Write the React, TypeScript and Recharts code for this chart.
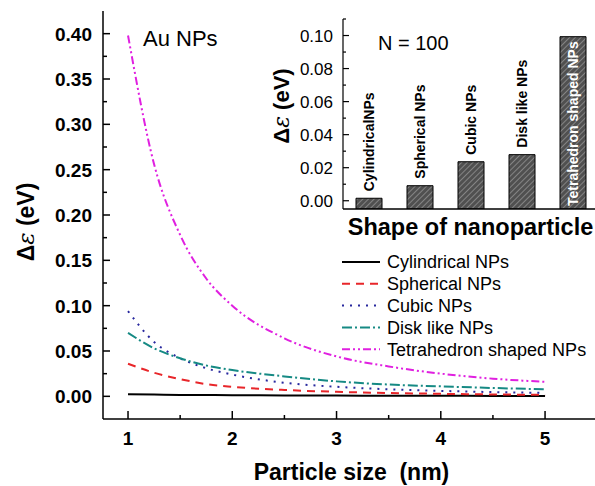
import React from 'react';
import { LineChart, Line, XAxis, YAxis, Legend, BarChart, Bar, LabelList } from 'recharts';

// main plot: energy gap vs particle size
const sizes = [1, 1.25, 1.5, 1.75, 2, 2.5, 3, 3.5, 4, 4.5, 5];
const cylindrical = [0.0022, 0.0019, 0.0016, 0.0014, 0.0012, 0.001, 0.0008, 0.0007, 0.0006, 0.0005, 0.0004];
const spherical = [0.036, 0.026, 0.019, 0.0135, 0.0105, 0.007, 0.005, 0.0037, 0.0028, 0.0021, 0.0016];
const cubic = [0.094, 0.06, 0.042, 0.031, 0.024, 0.015, 0.0105, 0.0078, 0.006, 0.0047, 0.0038];
const disk = [0.07, 0.053, 0.042, 0.034, 0.029, 0.022, 0.0165, 0.013, 0.011, 0.0092, 0.0078];
const tetrahedron = [0.398, 0.256, 0.178, 0.13, 0.1, 0.064, 0.044, 0.033, 0.025, 0.0195, 0.016];

const xTicks = [1, 1.5, 2, 2.5, 3, 3.5, 4, 4.5, 5];
const yTicks = [0, 0.025, 0.05, 0.075, 0.1, 0.125, 0.15, 0.175, 0.2, 0.225, 0.25, 0.275, 0.3, 0.325, 0.35, 0.375, 0.4];

// inset: N = 100
const shapes = ['CylindricalNPs', 'Spherical NPs', 'Cubic NPs', 'Disk like NPs', 'Tetrahedron shaped NPs'];
const shapeValues = [0.0015, 0.0091, 0.0236, 0.0279, 0.0993];
const insetTicks = [0, 0.01, 0.02, 0.03, 0.04, 0.05, 0.06, 0.07, 0.08, 0.09, 0.1, 0.11];

const Y_MIN = -0.025;
const INSET_MIN = -0.005;

const series = [
  { key: 'cyl', name: 'Cylindrical NPs', values: cylindrical, color: '#000000', dash: undefined as string | undefined },
  { key: 'sph', name: 'Spherical NPs', values: spherical, color: '#e8262a', dash: '8 6' },
  { key: 'cub', name: 'Cubic NPs', values: cubic, color: '#28289e', dash: '2 6' },
  { key: 'dsk', name: 'Disk like NPs', values: disk, color: '#168a84', dash: '10 3 2 3' },
  { key: 'tet', name: 'Tetrahedron shaped NPs', values: tetrahedron, color: '#e020e0', dash: '8 3 2 3 2 3' },
];

const mainData = sizes.map((x, i) => {
  const row: Record<string, number> = { x };
  series.forEach((s) => (row[s.key] = s.values[i]));
  return row;
});

const insetData = shapes.map((name, i) => ({ name, value: shapeValues[i] }));

const FONT = '"Liberation Sans", Arial, sans-serif';

const isMultiple = (v: number, step: number) => Math.abs(v / step - Math.round(v / step)) < 1e-6;

const MainYTick = (props: any) => {
  const { x, y, payload } = props;
  const major = isMultiple(payload.value, 0.05);
  return (
    <g>
      <line x1={x} x2={x + (major ? 7 : 4)} y1={y} y2={y} stroke="#000" strokeWidth={1.5} />
      {major && (
        <text x={x - 11} y={y} dy="0.36em" textAnchor="end" fontSize={19} fontWeight="bold" fill="#000" fontFamily={FONT}>
          {payload.value.toFixed(2)}
        </text>
      )}
    </g>
  );
};

const MainXTick = (props: any) => {
  const { x, y, payload } = props;
  const major = isMultiple(payload.value, 1);
  return (
    <g>
      <line x1={x} x2={x} y1={y} y2={y - (major ? 8 : 4)} stroke="#000" strokeWidth={1.5} />
      {major && (
        <text x={x} y={y + 26} textAnchor="middle" fontSize={19} fontWeight="bold" fill="#000" fontFamily={FONT}>
          {payload.value}
        </text>
      )}
    </g>
  );
};

const InsetYTick = (props: any) => {
  const { x, y, payload } = props;
  const major = isMultiple(payload.value, 0.02);
  return (
    <g>
      <line x1={x} x2={x + (major ? 6 : 3)} y1={y} y2={y} stroke="#000" strokeWidth={1.2} />
      {major && (
        <text x={x - 10} y={y} dy="0.36em" textAnchor="end" fontSize={17} fill="#000" fontFamily={FONT}>
          {payload.value.toFixed(2)}
        </text>
      )}
    </g>
  );
};

const DeltaEps = ({ x, y, size }: { x: number; y: number; size: number }) => (
  <text
    x={x}
    y={y}
    transform={`rotate(-90, ${x}, ${y})`}
    textAnchor="middle"
    dy="0.36em"
    fontSize={size}
    fontWeight="bold"
    fill="#000"
    fontFamily={FONT}
  >
    Δ<tspan fontStyle="italic" fontFamily="'DejaVu Serif', serif" fontWeight="normal">ε</tspan> (eV)
  </text>
);

const BarLabel = (props: any) => {
  const { x, y, width, height, index } = props;
  const cx = x + width / 2;
  const inside = index === shapes.length - 1;
  const ty = inside ? y + height - 3 : y - 7;
  return (
    <text
      x={cx}
      y={ty}
      transform={`rotate(-90, ${cx}, ${ty})`}
      dy="0.36em"
      textAnchor="start"
      fontSize={14}
      fontWeight="bold"
      fill={inside ? '#ffffff' : '#000'}
      fontFamily={FONT}
    >
      {shapes[index]}
    </text>
  );
};

const LegendBox = () => (
  <svg width={255} height={110}>
    {series.map((s, i) => {
      const ry = 11 + i * 21.8;
      return (
        <g key={s.key}>
          <line x1={2} x2={40} y1={ry} y2={ry} stroke={s.color} strokeWidth={2} strokeDasharray={s.dash} />
          <text x={47} y={ry} dy="0.36em" fontSize={18} fill="#000" fontFamily={FONT}>
            {s.name}
          </text>
        </g>
      );
    })}
  </svg>
);

export default function App() {
  return (
    <div style={{ position: 'absolute', left: 0, top: 0, width: 595, height: 486, overflow: 'hidden', background: '#fff', fontFamily: FONT }}>
      <div style={{ position: 'absolute', left: 0, top: 0 }}>
        <LineChart width={600} height={486} data={mainData} margin={{ top: 11, right: 0, bottom: 0, left: 0 }}>
          <XAxis
            dataKey="x"
            type="number"
            domain={[0.76, 5.527]}
            ticks={xTicks}
            interval={0}
            allowDataOverflow
            height={67}
            tickSize={0}
            tickMargin={0}
            tickLine={false}
            tick={<MainXTick />}
            axisLine={{ stroke: '#000', strokeWidth: 1.5 }}
            label={(p: any) => {
              const vb = p.viewBox;
              return (
                <text x={vb.x + vb.width / 2} y={vb.y + 61} textAnchor="middle" fontSize={23} fontWeight="bold" fill="#000" fontFamily={FONT}>
                  Particle size{'\u00a0\u00a0'}(nm)
                </text>
              );
            }}
          />
          <XAxis xAxisId="top" orientation="top" dataKey="x" type="number" domain={[0.76, 5.527]} height={0} tick={false} tickLine={false} axisLine={{ stroke: '#000', strokeWidth: 1.5 }} />
          <YAxis
            type="number"
            domain={[Y_MIN, 0.425]}
            ticks={yTicks}
            interval={0}
            allowDataOverflow
            width={103}
            tickSize={0}
            tickMargin={0}
            tickLine={false}
            tick={<MainYTick />}
            axisLine={{ stroke: '#000', strokeWidth: 1.5 }}
            label={(p: any) => <DeltaEps x={p.viewBox.x + 26} y={222} size={23} />}
          />
          {series.map((s) => (
            <Line
              key={s.key}
              dataKey={s.key}
              name={s.name}
              type="monotone"
              stroke={s.color}
              strokeWidth={2}
              strokeDasharray={s.dash}
              dot={false}
              activeDot={false}
              isAnimationActive={false}
            />
          ))}
          <Legend
            layout="vertical"
            align="center"
            verticalAlign="middle"
            content={() => <LegendBox />}
            wrapperStyle={{ left: 340, top: 251, width: 255, height: 110 }}
          />
        </LineChart>
      </div>

      <div style={{ position: 'absolute', left: 250, top: 0 }}>
        <BarChart width={350} height={250} data={insetData} margin={{ top: 19, right: 2, bottom: 0, left: 0 }} barCategoryGap={0}>
          <defs>
            <pattern id="hatch" width={4} height={4} patternUnits="userSpaceOnUse" patternTransform="rotate(45)">
              <rect width={4} height={4} fill="#505050" />
              <line x1={0} y1={0} x2={0} y2={4} stroke="#a8a8a8" strokeWidth={1.2} />
            </pattern>
          </defs>
          <XAxis
            dataKey="name"
            height={41}
            tick={false}
            tickLine={false}
            axisLine={{ stroke: '#000', strokeWidth: 1.5 }}
            label={(p: any) => {
              const vb = p.viewBox;
              return (
                <text x={vb.x + vb.width / 2} y={vb.y + 26} textAnchor="middle" fontSize={23.5} fontWeight="bold" fill="#000" fontFamily={FONT}>
                  Shape of nanoparticle
                </text>
              );
            }}
          />
          <YAxis
            type="number"
            domain={[INSET_MIN, 0.11]}
            ticks={insetTicks}
            interval={0}
            allowDataOverflow
            width={93}
            tickSize={0}
            tickMargin={0}
            tickLine={false}
            tick={<InsetYTick />}
            axisLine={{ stroke: '#000', strokeWidth: 1.2 }}
            label={(p: any) => <DeltaEps x={p.viewBox.x + 31} y={106} size={22} />}
          />
          <Bar
            dataKey={(d: any) => [INSET_MIN, d.value]}
            barSize={26}
            fill="url(#hatch)"
            stroke="#000"
            strokeWidth={1}
            isAnimationActive={false}
          >
            <LabelList content={<BarLabel />} />
          </Bar>
        </BarChart>
      </div>

      <svg width={595} height={486} style={{ position: 'absolute', left: 0, top: 0, pointerEvents: 'none' }}>
        <text x={143} y={46} fontSize={22} fill="#000" fontFamily={FONT}>
          Au NPs
        </text>
        <text x={378} y={50} fontSize={20} fill="#000" fontFamily={FONT}>
          N = 100
        </text>
      </svg>
    </div>
  );
}
